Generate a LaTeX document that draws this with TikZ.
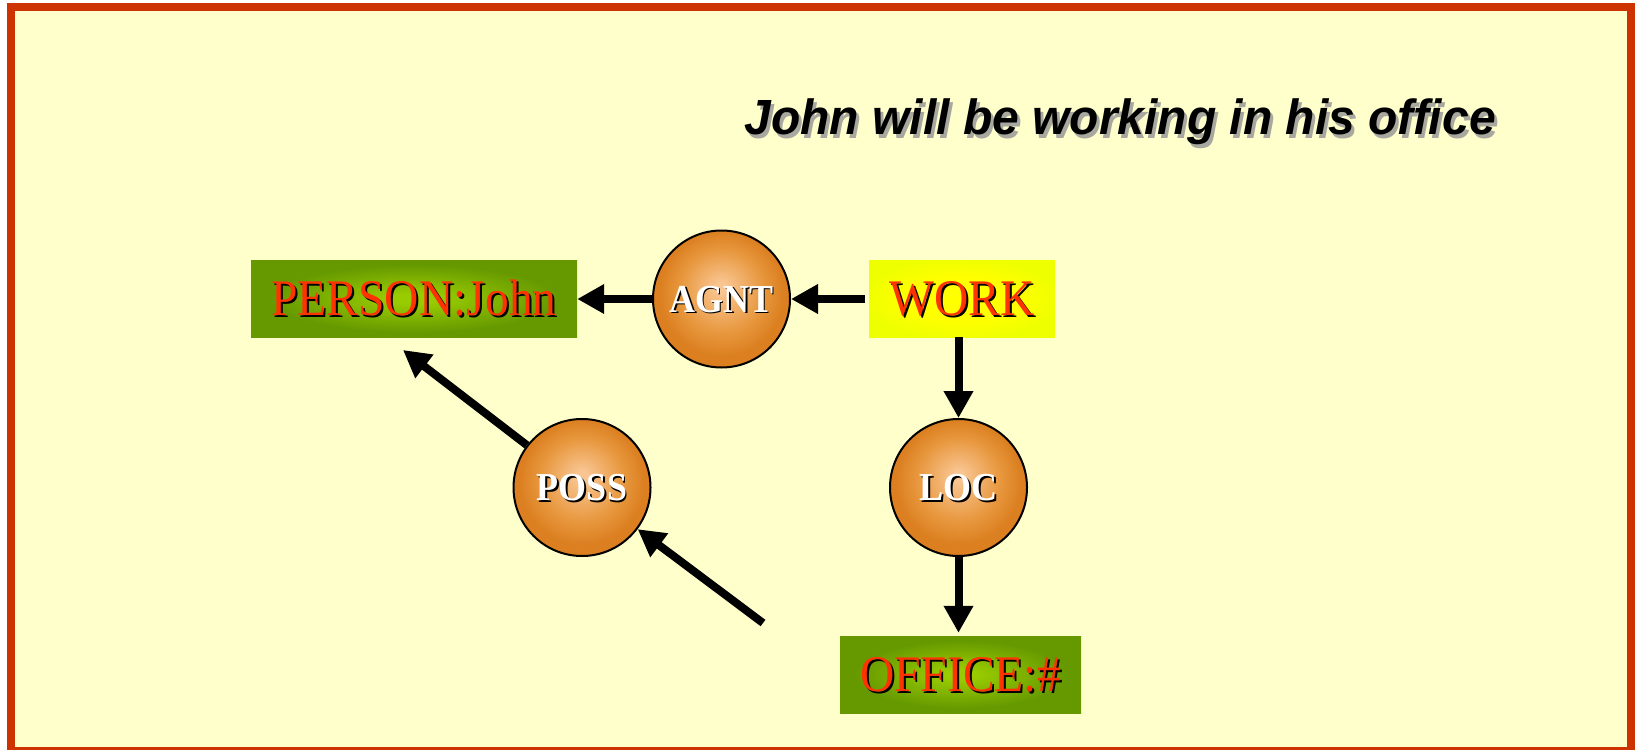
\documentclass[tikz,border=0pt]{standalone}
\usepackage{fontspec}
\setmainfont{Liberation Serif}
\newfontfamily\headfont{Liberation Sans}
\usetikzlibrary{arrows.meta}

\definecolor{paper}{HTML}{FFFFCC}
\definecolor{framered}{HTML}{CC3300}
\definecolor{labelred}{HTML}{FF3300}
\definecolor{greenIn}{HTML}{99CC00}
\definecolor{greenOut}{HTML}{669900}
\definecolor{yellowIn}{HTML}{FFFF00}
\definecolor{yellowOut}{HTML}{EEFF00}
\definecolor{orbIn}{HTML}{F9C693}
\definecolor{orbMid}{HTML}{E8983F}
\definecolor{orbOut}{HTML}{DB7F20}
\definecolor{titleshade}{HTML}{A8A8A0}

% soft glows for the concept boxes and the relation circles
% (the square of +-25bp is stretched onto the shaded shape)
\pgfdeclareradialshading{greenglow}{\pgfpointorigin}{color(0bp)=(greenIn); color(3bp)=(greenIn); color(22bp)=(greenOut); color(40bp)=(greenOut)}
\pgfdeclareradialshading{yellowglow}{\pgfpointorigin}{color(0bp)=(yellowIn); color(14bp)=(yellowIn); color(27bp)=(yellowOut); color(40bp)=(yellowOut)}
\pgfdeclareradialshading{orb}{\pgfpoint{0bp}{4.5bp}}{color(0bp)=(orbIn); color(1.5bp)=(orbIn); color(15bp)=(orbMid); color(23bp)=(orbOut); color(40bp)=(orbOut)}

% text with a drop shadow: #1 shadow colour, #2 offset, #3 text colour, #4 text
\newcommand\shadowed[4]{\makebox[0pt][l]{\hspace*{#2}\raisebox{-#2}{\textcolor{#1}{#4}}}\textcolor{#3}{#4}}
\newcommand\tallish[2]{\scalebox{1}[#1]{#2}}

\tikzset{
  conceptbox/.style={rectangle, inner sep=0pt, minimum height=77pt,
    text height=34pt, text depth=0pt, font=\fontsize{47.5}{50}\selectfont},
  greenbox/.style={conceptbox, shading=greenglow},
  yellowbox/.style={conceptbox, shading=yellowglow},
  relation/.style={circle, draw=black, line width=2pt, minimum size=137pt,
    inner sep=0pt, shading=orb, text height=26pt, text depth=0pt,
    font=\fontsize{36}{40}\selectfont\bfseries},
  link/.style={line width=8pt, -{Triangle[width=28pt,length=27pt]}},
}

\newcommand\conceptlabel[1]{\tallish{1.08}{\shadowed{black}{2pt}{labelred}{#1}}}
\newcommand\relationlabel[1]{\tallish{1.1}{\shadowed{black}{1.5pt}{white}{#1}}}

\begin{document}
\begin{tikzpicture}[x=1pt,y=-1pt]
  \useasboundingbox (0,0) rectangle (1637,749);
  \clip (0,0) rectangle (1637,749);

  % page and frame
  \fill[white] (0,0) rectangle (1637,749);
  \fill[paper] (11,7) rectangle (1630.5,751);
  \draw[framered, line width=8pt] (11,7) rectangle (1630.5,751);

  % heading
  \node[anchor=base, inner sep=0pt,
        font=\headfont\bfseries\itshape\fontsize{48}{56}\selectfont] (title)
    at (1120,135) {\tallish{1.03}{\shadowed{titleshade}{3pt}{black}{John will be working in his office}}};

  % concepts
  \node[greenbox, minimum width=326pt] (person) at (414,298.5) {\conceptlabel{PERSON:John}};
  \node[yellowbox, minimum width=186pt] (work) at (962,298.5) {\conceptlabel{WORK}};
  \node[greenbox, minimum width=241pt] (office) at (960.5,674.5) {\conceptlabel{OFFICE:\#}};

  % relations
  \node[relation] (agnt) at (721.5,299) {\relationlabel{AGNT}};
  \node[relation] (loc) at (958.5,487.5) {\relationlabel{LOC}};
  \node[relation] (poss) at (582,487.5) {\relationlabel{POSS}};

  % arcs
  \coordinate (possTip) at (403,350);
  \coordinate (looseEnd) at (763,623);
  \draw[link, shorten <=4pt] (work.west |- agnt) -- (agnt);
  \draw[link] (agnt) -- (person.east |- agnt);
  \draw[link] (loc |- work.south) -- (loc);
  \draw[link, shorten >=3pt] (loc) -- (loc |- office.north);
  \draw[link] (poss) -- (possTip);
  \draw[link] (looseEnd) -- (poss);
\end{tikzpicture}
\end{document}
